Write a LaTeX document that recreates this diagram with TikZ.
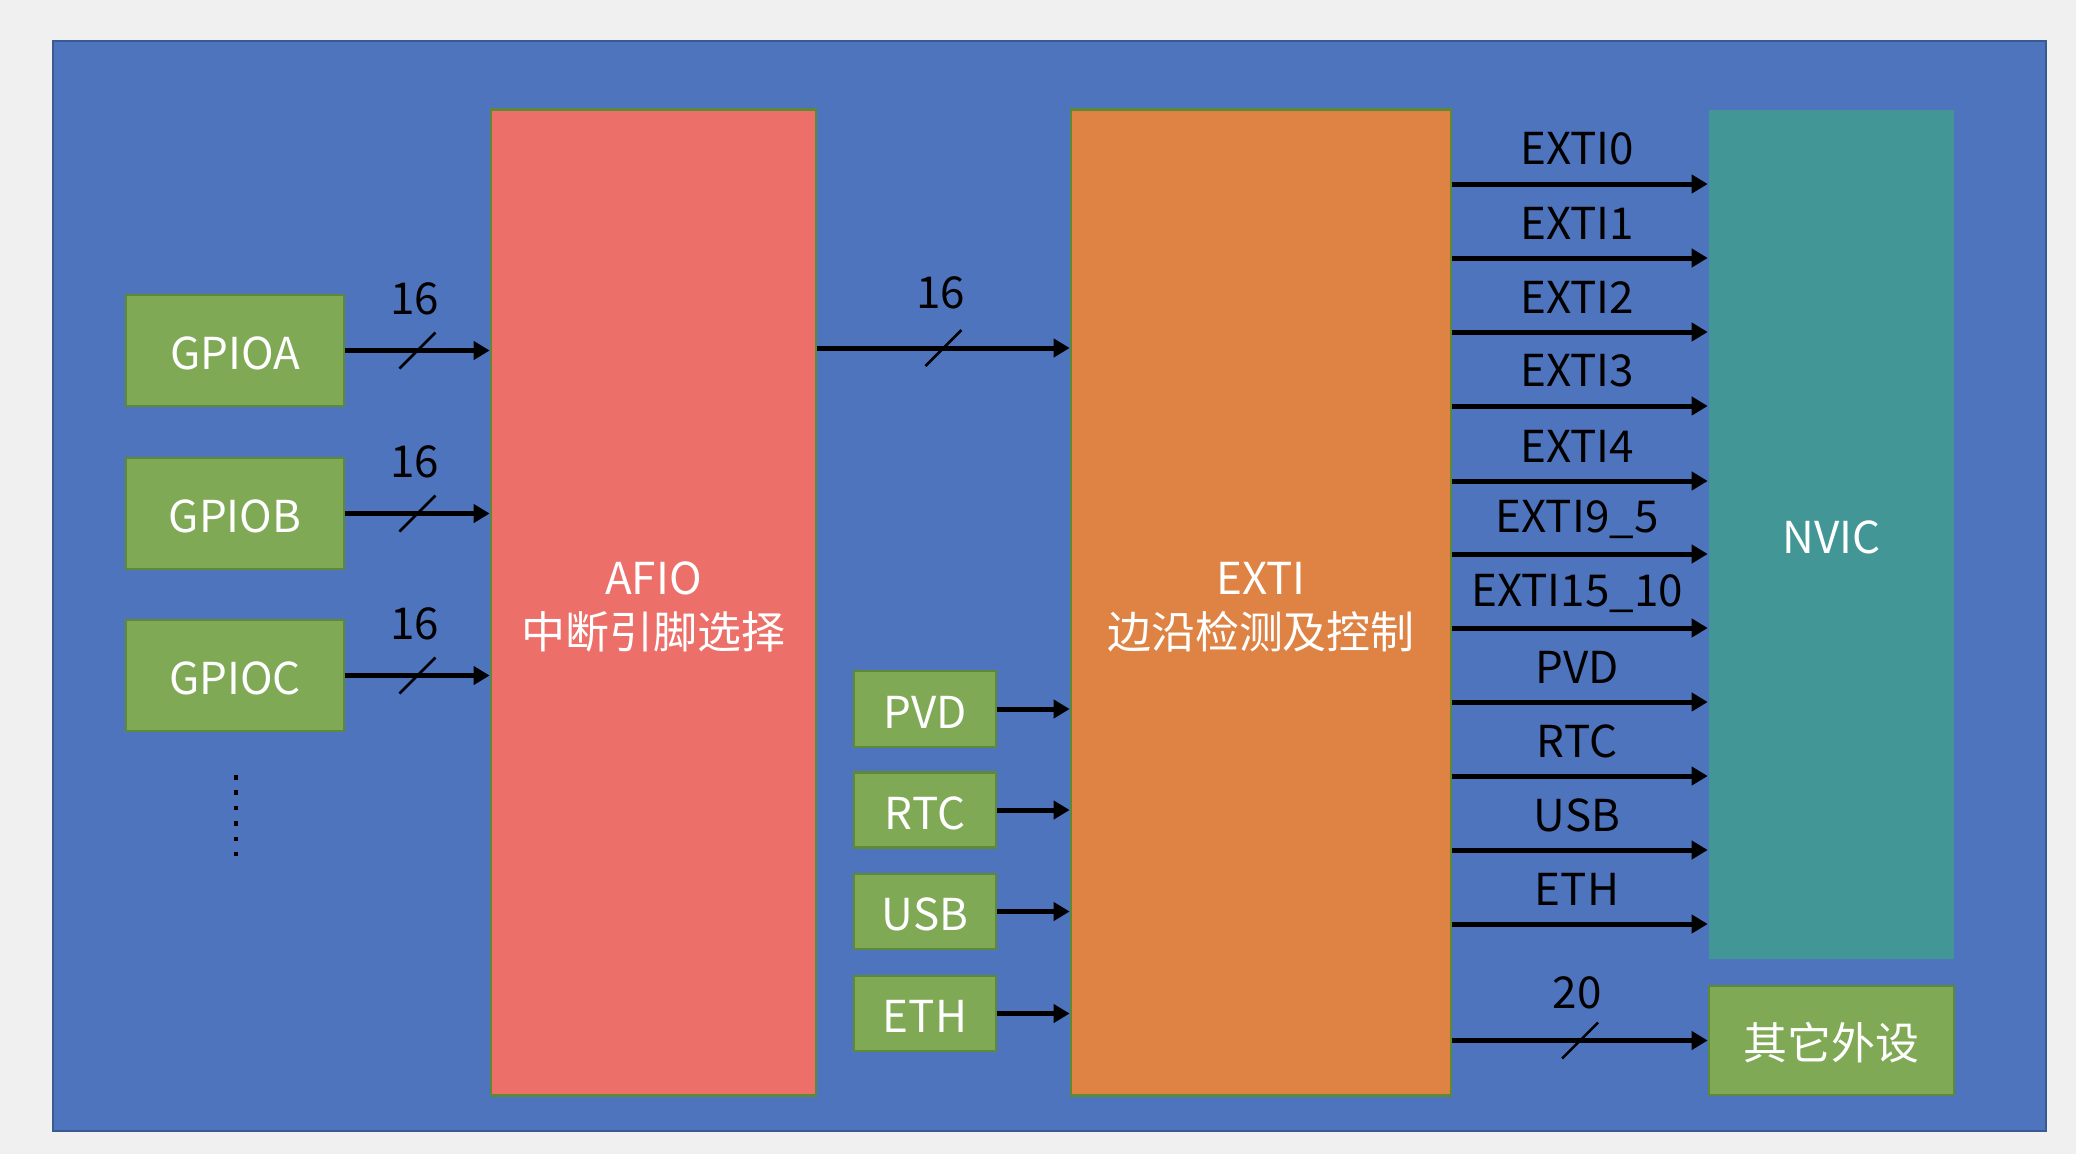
\documentclass[tikz,border=0pt]{standalone}
\usepackage{fontspec}
\setmainfont{Noto Sans CJK SC}
\usetikzlibrary{arrows.meta}
\definecolor{pagegray}{HTML}{F0F0F0}
\definecolor{bgblue}{HTML}{4E74BE}
\definecolor{bgborder}{HTML}{3A5A94}
\definecolor{afiored}{HTML}{EC6F69}
\definecolor{extiorange}{HTML}{DF8344}
\definecolor{nvicteal}{HTML}{429695}
\definecolor{boxgreen}{HTML}{7FA954}
\definecolor{edgegreen}{HTML}{5E8A38}
\begin{document}
\begin{tikzpicture}[x=0.01cm,y=-0.01cm,
  box/.style={draw=edgegreen, line width=0.025cm, fill=#1, text=white, inner sep=0pt,
    font=\fontsize{12.5pt}{15.5pt}\selectfont, align=center, text height=0.38cm, text depth=0pt},
  twoline/.style={text height=0.92cm, text depth=0pt},
  sig/.style={line width=0.05cm, -{Triangle[length=0.16cm,width=0.18cm]}},
  lbl/.style={text=black, font=\fontsize{12.5pt}{15pt}\selectfont, inner sep=0pt},
  slashmark/.style={line width=0.025cm}
]
\useasboundingbox (0,0) rectangle (2076,1154);
\fill[pagegray] (0,0) rectangle (2076,1154);
\draw[fill=bgblue, draw=bgborder, line width=0.02cm] (53,41) rectangle (2046,1131);

% GPIO boxes
\node[box=boxgreen, minimum width=2.18cm, minimum height=1.11cm] (gpioa) at (235,350.5) {GPIOA};
\node[box=boxgreen, minimum width=2.18cm, minimum height=1.11cm] (gpiob) at (235,513.5) {GPIOB};
\node[box=boxgreen, minimum width=2.18cm, minimum height=1.11cm] (gpioc) at (235,675.5) {GPIOC};
\draw[line width=0.045cm, dash pattern=on 0.045cm off 0.109cm] (236,775) -- (236,856);

% AFIO and EXTI
\node[box=afiored, twoline, minimum width=3.25cm, minimum height=9.85cm] (afio) at (653.5,602.5) {AFIO\\中断引脚选择};
\node[box=extiorange, twoline, minimum width=3.80cm, minimum height=9.85cm] (exti) at (1261,602.5) {EXTI\\边沿检测及控制};

% small sources
\node[box=boxgreen, minimum width=1.42cm, minimum height=0.76cm] (pvd) at (925,709) {PVD};
\node[box=boxgreen, minimum width=1.42cm, minimum height=0.75cm] (rtc) at (925,810) {RTC};
\node[box=boxgreen, minimum width=1.42cm, minimum height=0.75cm] (usb) at (925,911.5) {USB};
\node[box=boxgreen, minimum width=1.42cm, minimum height=0.75cm] (eth) at (925,1013.5) {ETH};

% NVIC and others
\node[box=nvicteal, draw=none, minimum width=2.45cm, minimum height=8.49cm] (nvic) at (1831.5,534.5) {NVIC};
\node[box=boxgreen, minimum width=2.45cm, minimum height=1.09cm] (other) at (1831.5,1040.5) {其它外设};

% GPIO -> AFIO
\foreach \g in {gpioa,gpiob,gpioc}{
  \draw[sig] (\g.east) -- (\g.east -| afio.west)
    node[midway, coordinate] (m\g) {}
    node[midway, lbl, xshift=-0.03cm, yshift=0.52cm] {16};
  \draw[slashmark] ([shift={(-18,18)}]m\g) -- ([shift={(18,-18)}]m\g);
}

% AFIO -> EXTI
\coordinate (yae) at (0,348);
\draw[sig] (afio.east |- yae) -- (exti.west |- yae)
  node[midway, coordinate] (mae) {}
  node[midway, lbl, xshift=-0.03cm, yshift=0.55cm] {16};
\draw[slashmark] ([shift={(-18,18)}]mae) -- ([shift={(18,-18)}]mae);

% small sources -> EXTI
\foreach \s in {pvd,rtc,usb,eth}{
  \draw[sig] (\s.east) -- (\s.east -| exti.west);
}

% EXTI -> NVIC
\foreach \t/\yy [count=\i] in {EXTI0/184,EXTI1/258,EXTI2/332,EXTI3/406,EXTI4/481,EXTI9\_5/554,EXTI15\_10/628,PVD/702,RTC/776,USB/850,ETH/924}{
  \coordinate (yr\i) at (0,\yy);
  \draw[sig] (exti.east |- yr\i) -- (nvic.west |- yr\i)
    node[midway, lbl, xshift=-0.03cm, yshift=0.35cm] {\t};
}

% EXTI -> other peripherals
\draw[sig] (exti.east |- other.west) -- (other.west)
  node[midway, coordinate] (mo) {}
  node[midway, lbl, xshift=-0.03cm, yshift=0.48cm] {20};
\draw[slashmark] ([shift={(-18,18)}]mo) -- ([shift={(18,-18)}]mo);
\end{tikzpicture}
\end{document}
